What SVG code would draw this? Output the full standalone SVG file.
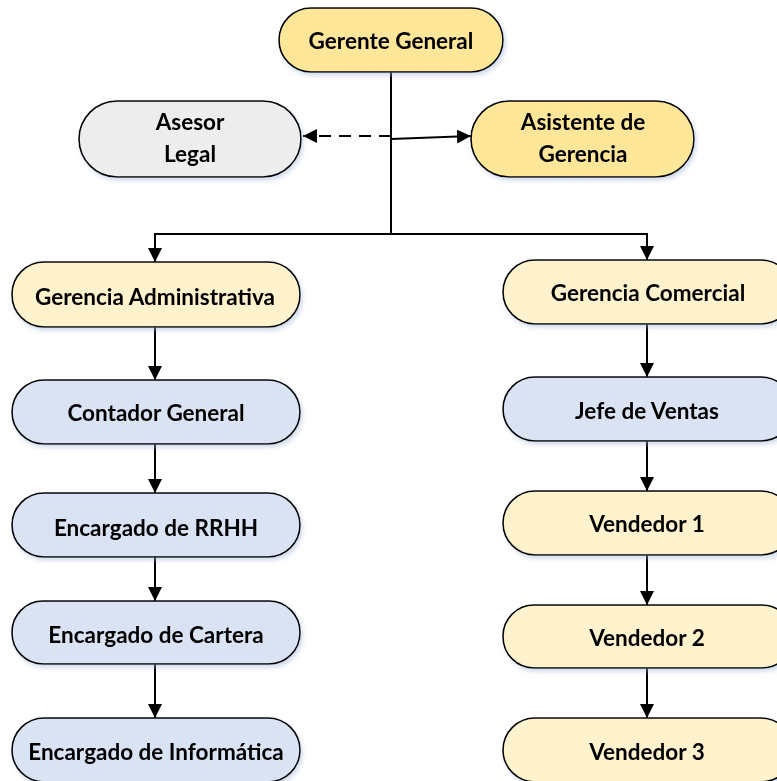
<svg xmlns="http://www.w3.org/2000/svg" width="777" height="781" viewBox="0 0 777 781">
  <style>
    .box { stroke: #000; stroke-width: 1.6; }
    .gold { fill: #FFE699; }
    .cream { fill: #FFF2CC; }
    .blue { fill: #DAE3F3; }
    .grey { fill: #EDEDED; }
    .lbl { font-family: Lato, "Open Sans", "Liberation Sans", sans-serif; font-weight: bold; font-size: 22.5px; fill: #000; text-anchor: middle; dominant-baseline: central; }
    .wire { stroke: #000; stroke-width: 2; fill: none; }
  </style>
  <defs>
    <filter id="shadow" x="-10%" y="-20%" width="130%" height="150%">
      <feDropShadow dx="2" dy="3" stdDeviation="2" flood-color="#9DB3D6" flood-opacity="0.45"/>
    </filter>
    <marker id="arrow" viewBox="0 0 14 14" refX="14" refY="7" markerWidth="14" markerHeight="14" markerUnits="userSpaceOnUse" orient="auto">
      <path d="M0,0 L14,7 L0,14 Z" fill="#000"/>
    </marker>
  </defs>

  <!-- connectors -->
  <g id="connectors">
    <path class="wire" d="M391,72 V234"/>
    <path class="wire" d="M391,136 H303" stroke-dasharray="12,8" marker-end="url(#arrow)"/>
    <path class="wire" d="M391,139 L471,136" marker-end="url(#arrow)"/>
    <path class="wire" d="M155,262 V234 H647 V260"/>
    <path class="wire" d="M155,234 V262" marker-end="url(#arrow)"/>
    <path class="wire" d="M647,234 V260" marker-end="url(#arrow)"/>
    <path class="wire" d="M155,327 V380" marker-end="url(#arrow)"/>
    <path class="wire" d="M155,444 V493" marker-end="url(#arrow)"/>
    <path class="wire" d="M155,557 V601" marker-end="url(#arrow)"/>
    <path class="wire" d="M155,664 V718" marker-end="url(#arrow)"/>
    <path class="wire" d="M647,324 V377" marker-end="url(#arrow)"/>
    <path class="wire" d="M647,441 V491" marker-end="url(#arrow)"/>
    <path class="wire" d="M647,555 V605" marker-end="url(#arrow)"/>
    <path class="wire" d="M647,668 V718" marker-end="url(#arrow)"/>
  </g>

  <g id="gerente-general" filter="url(#shadow)">
    <rect class="box gold" x="279" y="8" width="224" height="64" rx="32"/>
    <text class="lbl" x="391" y="40">Gerente General</text>
  </g>

  <g id="asesor-legal" filter="url(#shadow)">
    <rect class="box grey" x="79" y="101" width="222" height="76" rx="38"/>
    <text class="lbl" x="190" y="121">Asesor</text>
    <text class="lbl" x="190" y="153">Legal</text>
  </g>

  <g id="asistente-gerencia" filter="url(#shadow)">
    <rect class="box gold" x="471" y="101" width="223" height="76" rx="38"/>
    <text class="lbl" x="583" y="121">Asistente de</text>
    <text class="lbl" x="583" y="153">Gerencia</text>
  </g>

  <g id="gerencia-administrativa" filter="url(#shadow)">
    <rect class="box cream" x="12" y="262" width="288" height="65" rx="32"/>
    <text class="lbl" x="155" y="296">Gerencia Administrativa</text>
  </g>

  <g id="contador-general" filter="url(#shadow)">
    <rect class="box blue" x="12" y="380" width="288" height="64" rx="32"/>
    <text class="lbl" x="156" y="412">Contador General</text>
  </g>

  <g id="encargado-rrhh" filter="url(#shadow)">
    <rect class="box blue" x="12" y="493" width="288" height="64" rx="32"/>
    <text class="lbl" x="156" y="527">Encargado de RRHH</text>
  </g>

  <g id="encargado-cartera" filter="url(#shadow)">
    <rect class="box blue" x="12" y="601" width="288" height="63" rx="31"/>
    <text class="lbl" x="156" y="634">Encargado de Cartera</text>
  </g>

  <g id="encargado-informatica" filter="url(#shadow)">
    <rect class="box blue" x="12" y="718" width="288" height="64" rx="32"/>
    <text class="lbl" x="156" y="751">Encargado de Informática</text>
  </g>

  <g id="gerencia-comercial" filter="url(#shadow)">
    <rect class="box cream" x="503" y="260" width="290" height="64" rx="32"/>
    <text class="lbl" x="648" y="292">Gerencia Comercial</text>
  </g>

  <g id="jefe-ventas" filter="url(#shadow)">
    <rect class="box blue" x="503" y="377" width="290" height="64" rx="32"/>
    <text class="lbl" x="647" y="410">Jefe de Ventas</text>
  </g>

  <g id="vendedor-1" filter="url(#shadow)">
    <rect class="box cream" x="503" y="491" width="290" height="64" rx="32"/>
    <text class="lbl" x="647" y="523">Vendedor 1</text>
  </g>

  <g id="vendedor-2" filter="url(#shadow)">
    <rect class="box cream" x="503" y="605" width="290" height="63" rx="31"/>
    <text class="lbl" x="647" y="637">Vendedor 2</text>
  </g>

  <g id="vendedor-3" filter="url(#shadow)">
    <rect class="box cream" x="503" y="718" width="290" height="64" rx="32"/>
    <text class="lbl" x="647" y="751">Vendedor 3</text>
  </g>
</svg>
